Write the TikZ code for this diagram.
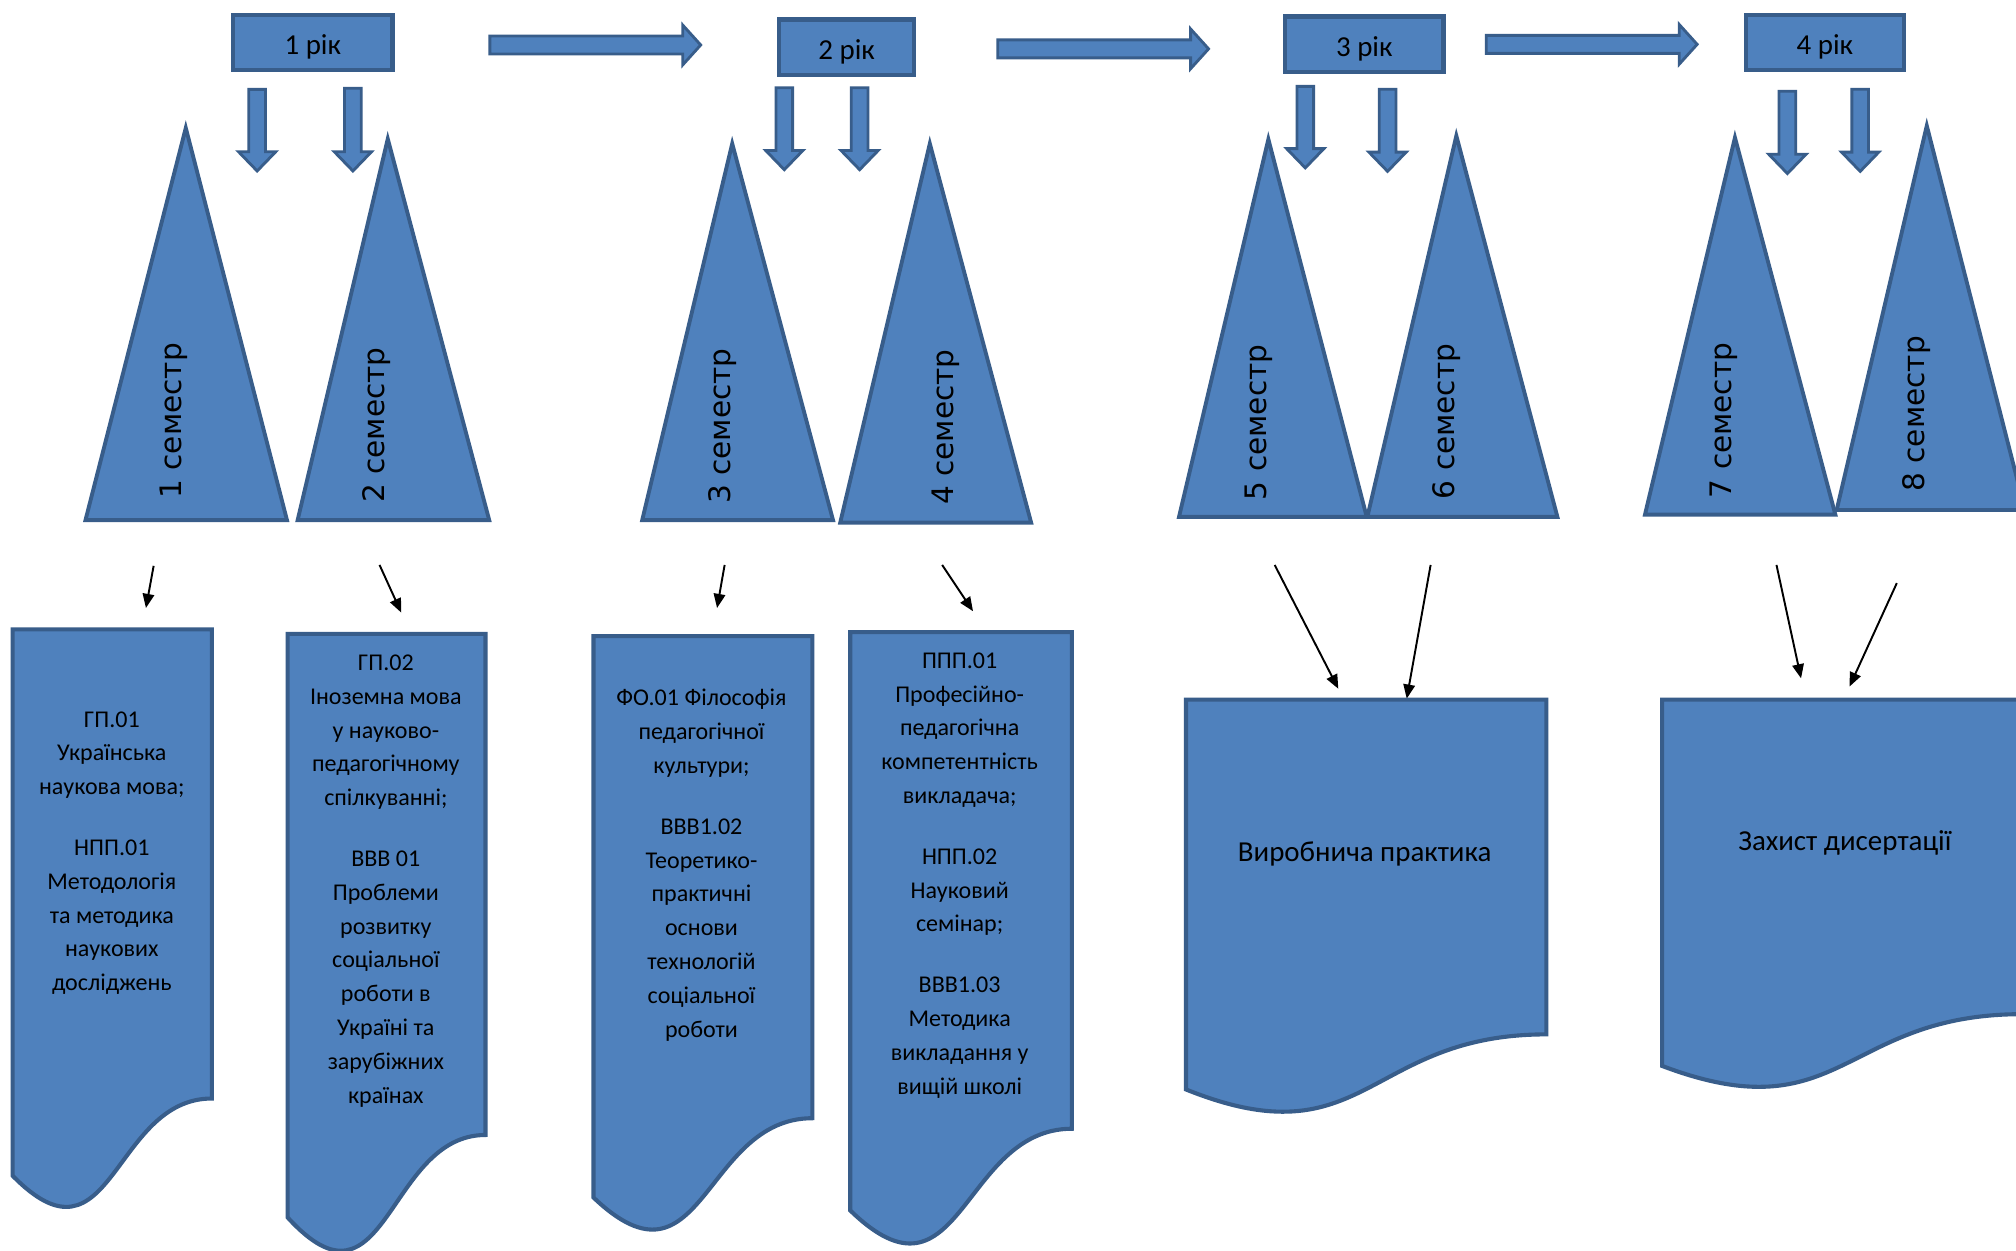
\documentclass[tikz,border=0pt]{standalone}
\usepackage{fontspec}
\newfontfamily\carlito{Carlito}
\newfontfamily\dvsans{DejaVu Sans}
\usetikzlibrary{arrows.meta}
\definecolor{shfill}{HTML}{4F81BD}
\definecolor{shline}{HTML}{385D8A}
\newcommand\hblockarrow[3]{%
  \draw[blockarr] (#1,#3-7) -- (#2-14,#3-7) -- (#2-14,#3-15.5) -- (#2,#3) -- (#2-14,#3+15.5) -- (#2-14,#3+7) -- (#1,#3+7) -- cycle;}
\newcommand\vblockarrow[3]{%
  \draw[blockarr] (#1-6.5,#2) -- (#1+6.5,#2) -- (#1+6.5,#3-15) -- (#1+14.5,#3-15) -- (#1,#3) -- (#1-14.5,#3-15) -- (#1-6.5,#3-15) -- cycle;}
\newcommand\trishape[5]{% apex x, apex y, left, right, base
  \draw[trishp] (#1,#2) -- (#4,#5) -- (#3,#5) -- cycle;}
\newcommand\docshape[4]{% x0, x1, ytop, h
  \pgfmathsetmacro\dsA{#3+0.80194*#4}%
  \pgfmathsetmacro\dsB{#3+1.10750*#4}%
  \pgfmathsetmacro\dsC{#3+0.93389*#4}%
  \pgfmathsetmacro\dsM{(#1+#2)/2}%
  \draw[docshp] (#1,#3) -- (#2,#3) -- (#2,\dsA) .. controls (\dsM,\dsA) and (\dsM,\dsB) .. (#1,\dsC) -- cycle;}
\begin{document}
\begin{tikzpicture}[x=1pt,y=-1pt,
  yearbox/.style={draw=shline,fill=shfill,line width=3.5pt,minimum height=43pt,inner sep=0pt,text height=20.6pt,text depth=2pt,font=\carlito\fontsize{22.5}{26}\selectfont},
  blockarr/.style={draw=shline,fill=shfill,line width=2.2pt,line join=miter},
  trishp/.style={draw=shline,fill=shfill,line width=3pt,line join=miter},
  docshp/.style={draw=shline,fill=shfill,line width=3.2pt,line join=miter},
  semlabel/.style={rotate=90,inner sep=0pt,font=\dvsans\fontsize{23}{28}\selectfont},
  doctext/.style={align=center,anchor=north,inner sep=0pt,font=\carlito\fontsize{18.7}{26.3}\selectfont},
  bigtext/.style={inner sep=0pt,font=\carlito\fontsize{22.5}{27}\selectfont},
  conn/.style={line width=1.5pt,-{Triangle[length=11pt,width=9pt]}}]
\clip (0,0) rectangle (1568,973);
\fill[white] (0,0) rectangle (1568,973);

% year boxes
\node[yearbox,minimum width=124pt] (y1) at (243.3,33) {1 рік};
\node[yearbox,minimum width=105pt] (y2) at (658.5,36.7) {2 рік};
\node[yearbox,minimum width=123.5pt] (y3) at (1061.1,34.5) {3 рік};
\node[yearbox,minimum width=123pt] (y4) at (1419.3,33) {4 рік};

% horizontal block arrows
\hblockarrow{381}{545}{35}
\hblockarrow{776}{940}{38}
\hblockarrow{1156}{1320}{34.5}

% vertical block arrows
\vblockarrow{200}{69.5}{133}
\vblockarrow{274.5}{68.6}{133}
\vblockarrow{610}{68.3}{132}
\vblockarrow{668.6}{68.3}{132}
\vblockarrow{1015.2}{67.2}{130.6}
\vblockarrow{1079.2}{69.4}{133.3}
\vblockarrow{1390.2}{71}{135}
\vblockarrow{1446.8}{69.4}{133.3}

% triangles
\trishape{144.5}{99.5}{66.5}{223.2}{404.5}
\trishape{301.6}{108}{231.5}{380.5}{404.5}
\trishape{569.5}{111.7}{499.5}{647.9}{404.5}
\trishape{723.2}{111.7}{653.5}{802}{406.5}
\trishape{986.5}{108.3}{917}{1063}{402}
\trishape{1132.7}{105.6}{1063.5}{1211.3}{402}
\trishape{1349.4}{107}{1279.4}{1427.5}{400.3}
\trishape{1498.6}{97.8}{1428.5}{1575}{396.7}

\node[semlabel] (s1) at (135,327.3) {1 семестр};
\node[semlabel] (s2) at (293,330.6) {2 семестр};
\node[semlabel] (s3) at (561.8,331.4) {3 семестр};
\node[semlabel] (s4) at (735.3,332.2) {4 семестр};
\node[semlabel] (s5) at (979,328.5) {5 семестр};
\node[semlabel] (s6) at (1125,327.8) {6 семестр};
\node[semlabel] (s7) at (1341,327) {7 семестр};
\node[semlabel] (s8) at (1490.5,321.8) {8 семестр};

% connectors
\coordinate (c1s) at (119.5,440.1); \coordinate (c1e) at (113.5,472.9);
\coordinate (c2s) at (295.2,439.4); \coordinate (c2e) at (312.1,476.5);
\coordinate (c3s) at (563.6,439.4); \coordinate (c3e) at (557.7,472.9);
\coordinate (c4s) at (732.8,439.4); \coordinate (c4e) at (756.8,475.4);
\coordinate (c5s) at (991.4,439.4); \coordinate (c5e) at (1040.9,535.7);
\coordinate (c6s) at (1112.7,439.4); \coordinate (c6e) at (1094.1,543.4);
\coordinate (c7s) at (1381.7,439.4); \coordinate (c7e) at (1400.8,527.6);
\coordinate (c8s) at (1475.3,453.5); \coordinate (c8e) at (1438.5,534);
\draw[conn] (c1s) -- (c1e);
\draw[conn] (c2s) -- (c2e);
\draw[conn] (c3s) -- (c3e);
\draw[conn] (c4s) -- (c4e);
\draw[conn] (c5s) -- (c5e);
\draw[conn] (c6s) -- (c6e);
\draw[conn] (c7s) -- (c7e);
\draw[conn] (c8s) -- (c8e);

% documents
\docshape{9.8}{164.8}{489.5}{455}
\docshape{223.7}{377.6}{493}{486}
\docshape{461.6}{631.8}{494.8}{467.5}
\docshape{661.3}{833.7}{491.6}{481.7}
\docshape{922.4}{1202.7}{544.2}{324.6}
\docshape{1292.7}{1572.7}{544.2}{305}

\node[doctext] (d1) at (87,545.3) {\rule{0pt}{20pt}ГП.01\\Українська\\наукова мова;\\[21pt]НПП.01\\Методологія\\та методика\\наукових\\досліджень};
\node[doctext] (d2) at (300.1,501.2) {\rule{0pt}{20pt}ГП.02\\Іноземна мова\\у науково-\\педагогічному\\спілкуванні;\\[21pt]ВВВ 01\\Проблеми\\розвитку\\соціальної\\роботи в\\Україні та\\зарубіжних\\країнах};
\node[doctext] (d3) at (545.6,528.8) {\rule{0pt}{20pt}ФО.01 Філософія\\педагогічної\\культури;\\[21pt]ВВВ1.02\\Теоретико-\\практичні\\основи\\технологій\\соціальної\\роботи};
\node[doctext] (d4) at (746.4,499.5) {\rule{0pt}{20pt}ППП.01\\Професійно-\\педагогічна\\компетентність\\викладача;\\[21pt]НПП.02\\Науковий\\семінар;\\[21pt]ВВВ1.03\\Методика\\викладання у\\вищій школі};
\node[bigtext] (d5) at (1061.4,664.1) {Виробнича практика};
\node[bigtext] (d6) at (1434.9,655.7) {Захист дисертації};
\end{tikzpicture}
\end{document}
